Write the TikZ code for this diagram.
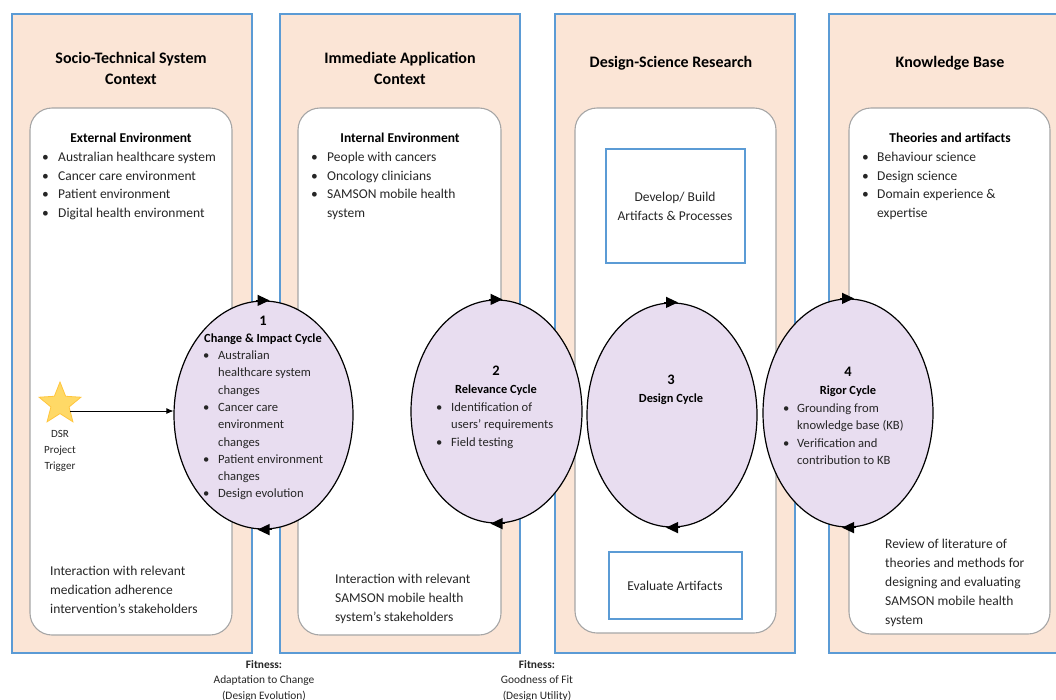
\documentclass[tikz,border=0pt]{standalone}
\usepackage{fontspec}
\setmainfont{Carlito}
\usetikzlibrary{shapes.geometric,arrows.meta}
\definecolor{peach}{HTML}{FBE5D6}
\definecolor{bblue}{HTML}{5B9BD5}
\definecolor{lav}{HTML}{E8DDF0}
\definecolor{igray}{HTML}{A6A6A6}
\definecolor{starfill}{HTML}{FFD966}
\definecolor{stardraw}{HTML}{FFC63D}
\definecolor{txt}{HTML}{262626}
\newcommand\blk[2]{\begin{tabular}[t]{@{}#1@{}}#2\end{tabular}}
\begin{document}
\begin{tikzpicture}[x=1pt,y=-1pt,
  outerbox/.style={draw=bblue, fill=peach, line width=1.3pt},
  innerbox/.style={draw=igray, fill=white, rounded corners=22pt, line width=1.1pt},
  cyc/.style={ellipse, draw=black, fill=lav, line width=1.2pt, inner sep=0pt},
  smallbox/.style={draw=bblue, fill=white, line width=1.2pt, inner sep=0pt},
  t/.style={inner sep=0pt, text=txt},
  title/.style={t, text=black, font=\fontsize{16}{21}\selectfont\bfseries, anchor=base},
  head/.style={t, text=black, font=\fontsize{13.5}{18.7}\selectfont\bfseries, anchor=base},
  body/.style={t, font=\fontsize{13.5}{18.7}\selectfont, anchor=base west},
  bot/.style={t, font=\fontsize{13.5}{19}\selectfont, anchor=base west},
  ctext/.style={t, font=\fontsize{12.6}{17.3}\selectfont, anchor=base west},
  cnum/.style={t, text=black, font=\fontsize{14.5}{18}\selectfont\bfseries, anchor=base},
  cname/.style={t, text=black, font=\fontsize{12.4}{18}\selectfont\bfseries, anchor=base},
  fit/.style={t, font=\fontsize{11.4}{15.5}\selectfont, anchor=base},
  ctr/.style={t, font=\fontsize{13.5}{19}\selectfont, anchor=base},
  arr/.style={draw=black, line width=0.8pt, -{Latex[length=7pt,width=6pt]}},
  cyctip/.style={draw=black, line width=1.2pt, -{Triangle[length=12pt,width=11pt]}}
]
\clip (0,0) rectangle (1056,699);
\fill[white] (0,0) rectangle (1056,699);

% outer columns
\draw[outerbox] (12,14) rectangle (252,653);
\draw[outerbox] (280,14) rectangle (520,653);
\draw[outerbox] (555,14) rectangle (795,653);
\draw[outerbox] (829,14) rectangle (1080,653);

% inner rounded boxes
\draw[innerbox] (30,108) rectangle (232,635);
\draw[innerbox] (298,108) rectangle (501,635);
\draw[innerbox] (575,108) rectangle (776,633);
\draw[innerbox] (849,108) rectangle (1050,634);

% titles
\node[title] (t1) at (131,63.5) {\blk{c}{Socio-Technical System\\Context}};
\node[title] (t2) at (400,63.5) {\blk{c}{Immediate Application\\Context}};
\node[title] (t3) at (671,67.5) {Design-Science Research};
\node[title] (t4) at (950,67.5) {Knowledge Base};

% headers
\node[head] (h1) at (131,142.5) {External Environment};
\node[head] (h2) at (400,142.5) {Internal Environment};
\node[head] (h4) at (950,142.5) {Theories and artifacts};

% bullet lists
\node[body] (l1) at (42,161.5) {\blk{p{16pt}@{}l}{• & Australian healthcare system\\ • & Cancer care environment\\ • & Patient environment\\ • & Digital health environment}};
\node[body] (l2) at (311,161.5) {\blk{p{16pt}@{}l}{• & People with cancers\\ • & Oncology clinicians\\ • & SAMSON mobile health\\ & system}};
\node[body] (l4) at (862,161.5) {\blk{p{15pt}@{}l}{• & Behaviour science\\ • & Design science\\ • & Domain experience \&\\ & expertise}};

% bottom texts
\node[bot] (b1) at (50,575.5) {\blk{l}{Interaction with relevant\\medication adherence\\intervention’s stakeholders}};
\node[bot] (b2) at (335,583.5) {\blk{l}{Interaction with relevant\\SAMSON mobile health\\system’s stakeholders}};
\node[bot] (b4) at (885,548.5) {\blk{l}{Review of literature of\\theories and methods for\\designing and evaluating\\SAMSON mobile health\\system}};

% design boxes
\node[smallbox, minimum width=139pt, minimum height=114pt] (dev) at (675.5,206) {};
\node[ctr] (devt) at (675,201.5) {\blk{c}{Develop/ Build\\Artifacts \& Processes}};
\node[smallbox, minimum width=133pt, minimum height=67pt] (eva) at (675.5,585.5) {};
\node[ctr] (evat) at (675,590.5) {Evaluate Artifacts};

% cycles
\node[cyc, minimum width=179pt, minimum height=228pt] (e1) at (263.5,415) {};
\node[cyc, minimum width=171pt, minimum height=223pt] (e2) at (496.5,411.5) {};
\node[cyc, minimum width=170pt, minimum height=224pt] (e3) at (672,415) {};
\node[cyc, minimum width=170pt, minimum height=228pt] (e4) at (848,413) {};

\foreach \e in {e1,e2,e3,e4}{
  \draw[cyctip] ([xshift=-8pt]\e.north) -- ([xshift=6pt]\e.north);
  \draw[cyctip] ([xshift=8pt]\e.south) -- ([xshift=-6pt]\e.south);
}

% cycle texts
\node[cnum] (n1) at (263,325) {1};
\node[cname] (c1) at (263,342) {Change \& Impact Cycle};
\node[ctext] (x1) at (203,359.5) {\blk{p{15pt}@{}l}{• & Australian\\ & healthcare system\\ & changes\\ • & Cancer care\\ & environment\\ & changes\\ • & Patient environment\\ & changes\\ • & Design evolution}};

\node[cnum] (n2) at (496,375) {2};
\node[cname] (c2) at (496,393) {Relevance Cycle};
\node[ctext] (x2) at (436,411.5) {\blk{p{15pt}@{}l}{• & Identification of\\ & users’ requirements\\ • & Field testing}};

\node[cnum] (n3) at (671,384) {3};
\node[cname] (c3) at (671,402) {Design Cycle};

\node[cnum] (n4) at (848,376) {4};
\node[cname] (c4) at (848,394) {Rigor Cycle};
\node[ctext] (x4) at (783,412.5) {\blk{p{14pt}@{}l}{• & Grounding from\\ & knowledge base (KB)\\ • & Verification and\\ & contribution to KB}};

% trigger
\node[star, star points=5, star point ratio=2.3, draw=stardraw, fill=starfill, line width=0.8pt, minimum size=44pt, inner sep=0pt] (star) at (60,404) {};
\node[t, font=\fontsize{11}{16}\selectfont, anchor=base] (trig) at (60,437) {\blk{c}{DSR\\Project\\Trigger}};
\coordinate (s0) at (70,411);
\draw[arr] (s0) -- (s0 -| e1.west);

% fitness labels
\node[fit] (f1) at (264,668) {\blk{c}{\textbf{Fitness:}\\Adaptation to Change\\(Design Evolution)}};
\node[fit] (f2) at (537,668) {\blk{c}{\textbf{Fitness:}\\Goodness of Fit\\(Design Utility)}};
\end{tikzpicture}
\end{document}
